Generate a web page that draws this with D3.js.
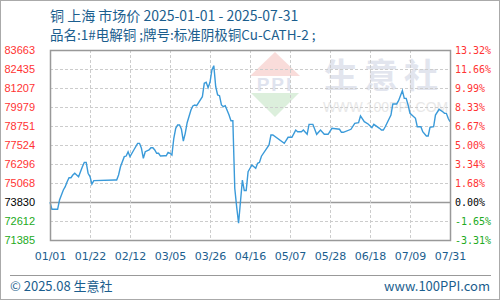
<!DOCTYPE html>
<html>
<head>
<meta charset="utf-8">
<script src="https://cdn.jsdelivr.net/npm/d3@7"></script>
<style>
  body { margin: 0; background: #fff; }
  svg { display: block; }
</style>
</head>
<body>
<div class="svg-container"></div>
<script>
// tick labels
var xTickDates = ["2025-01-01", "2025-01-22", "2025-02-12", "2025-03-05", "2025-03-26", "2025-04-16",
                  "2025-05-07", "2025-05-28", "2025-06-18", "2025-07-09", "2025-07-31"];
var xTickLabels = ["01/01", "01/22", "02/12", "03/05", "03/26", "04/16", "05/07", "05/28", "06/18", "07/09", "07/31"];
var yTickValues = [83663, 82435, 81207, 79979, 78751, 77524, 76296, 75068, 73830, 72612, 71385];
var pctLabels = ["13.32%", "11.66%", "9.99%", "8.33%", "6.67%", "5.00%", "3.34%", "1.68%", "0.00%", "-1.65%", "-3.31%"];
var baseValue = 73830;

// series: day offset from 2025-01-01, price (yuan/ton)
var days = [0, 1, 4, 5, 6, 7, 8, 9, 10, 11, 12, 13, 14, 15, 16, 17, 18, 19, 20, 21, 22, 23, 34,
            35, 36, 37, 39, 40, 41, 42, 44, 46, 47, 48, 49, 50, 52, 53, 54, 55, 56, 57, 58, 60,
            61, 62, 63, 64, 65, 66, 67, 68, 69, 70, 71, 72, 74, 75, 76, 77, 80, 81, 82, 83, 84,
            85, 86, 87, 88, 89, 90, 91, 92, 94, 95, 96, 97, 98, 99, 101, 102, 103, 104, 106, 108,
            109, 110, 111, 115, 116, 117, 123, 125, 127, 129, 130, 132, 133, 135, 136, 138, 140,
            142, 144, 146, 148, 152, 153, 154, 158, 160, 162, 163, 165, 167, 169, 170, 173, 174,
            175, 176, 179, 180, 182, 183, 185, 186, 187, 188, 189, 192, 193, 195, 196, 198, 199,
            200, 202, 203, 205, 207, 208, 209, 210, 211];
var prices = [73830, 73370, 73370, 73970, 74290, 74620, 74830, 75150, 75410, 75410, 75585, 75695,
              75585, 75475, 75800, 76120, 76400, 76400, 75700, 75480, 75000, 75220, 75260, 75260,
              75585, 76120, 76770, 76810, 77090, 76770, 77200, 77630, 77630, 77310, 76665, 77090,
              77200, 77350, 77350, 77200, 76990, 76990, 76810, 76830, 76830, 77050, 76990, 76880,
              77960, 78600, 78815, 78815, 78540, 77780, 78280, 78965, 79785, 80045, 80110, 80065,
              80645, 81510, 81575, 81230, 81575, 82370, 82650, 81290, 80755, 80710, 80110, 80000,
              80065, 79460, 79095, 79095, 74725, 73530, 72465, 75260, 74580, 74580, 75800, 76230,
              76020, 76340, 76405, 76800, 77525, 78170, 78170, 77635, 78020, 78020, 78490, 78385,
              78385, 78490, 78215, 78860, 78860, 78215, 78490, 78215, 78215, 78600, 78540, 78345,
              78345, 78540, 78925, 78965, 79400, 79030, 78880, 78640, 78860, 78600, 78490, 78490,
              78705, 79460, 80175, 80175, 80385, 81035, 80540, 80540, 80110, 79570, 79250, 78705,
              78705, 78385, 78105, 78105, 78670, 78705, 79460, 79830, 79675, 79570, 79570, 79250,
              79030, 79355, 79100];

var W = 500, H = 300;
var margin = { left: 50, right: 50, top: 50, bottom: 60 };
var blue = "#1b5e8e", red = "#ff3333", green = "#22aa22";

var svg = d3.select(".svg-container").append("svg")
    .attr("width", W)
    .attr("height", H)
    .style("font-family", "'Liberation Sans', Arial, sans-serif");

// outer frame
svg.append("rect")
    .attr("x", 0.5).attr("y", 0.5)
    .attr("width", W - 1).attr("height", H - 1)
    .attr("fill", "#fff").attr("stroke", "#aaa");

var parse = d3.timeParse("%Y-%m-%d");
var t0 = parse("2025-01-01");
var tickDates = xTickDates.map(parse);

// ticks are evenly spaced on the picture -> piecewise time scale
var x = d3.scaleTime()
    .domain(tickDates)
    .range(tickDates.map(function(d, i) { return margin.left + i * (W - margin.left - margin.right) / (tickDates.length - 1); }));
var y = d3.scaleLinear()
    .domain([71385, 83663])
    .range([H - margin.bottom, margin.top]);

var data = days.map(function(d, i) { return { date: d3.timeDay.offset(t0, d), v: prices[i] }; });

// watermark
var wm = svg.append("g").attr("class", "watermark");
wm.append("path").attr("d", "M275,52 L300,76 L250,76 Z").attr("fill", "#f9dcda");
wm.append("path").attr("d", "M251,93 L299,93 L275,117 Z").attr("fill", "#dcefdc");
wm.append("text").attr("x", 275).attr("y", 91).attr("text-anchor", "middle")
    .attr("font-size", 19).attr("font-weight", "bold").attr("fill", "#dfe3ee")
    .attr("letter-spacing", 2).text("PPI");
wm.append("text").attr("x", 324).attr("y", 88)
    .attr("font-family", "'Noto Sans CJK SC', sans-serif")
    .attr("font-size", 34).attr("font-weight", "bold").attr("fill", "#e2e5ee")
    .attr("letter-spacing", 6).text("生意社");
wm.append("text").attr("x", 323).attr("y", 112)
    .attr("font-size", 14).attr("fill", "#e8e8e8")
    .text("WWW.100PPI.COM");

// grid
var grid = svg.append("g").attr("class", "grid");
grid.selectAll("line.h").data(yTickValues).enter().append("line")
    .attr("x1", margin.left).attr("x2", W - margin.right)
    .attr("y1", function(d) { return Math.round(y(d)) + 0.5; })
    .attr("y2", function(d) { return Math.round(y(d)) + 0.5; })
    .attr("stroke", function(d) { return d === baseValue ? "#999" : "#ccc"; })
    .attr("stroke-width", function(d) { return d === baseValue ? 1.5 : 1; })
    .attr("stroke-dasharray", function(d) { return d === baseValue ? null : "3,2"; });
grid.selectAll("line.v").data(tickDates).enter().append("line")
    .attr("y1", margin.top).attr("y2", H - margin.bottom)
    .attr("x1", function(d) { return Math.round(x(d)) + 0.5; })
    .attr("x2", function(d) { return Math.round(x(d)) + 0.5; })
    .attr("stroke", "#ccc")
    .attr("stroke-dasharray", "3,2");

// price line
var line = d3.line()
    .x(function(d) { return x(d.date); })
    .y(function(d) { return y(d.v); });
svg.append("path")
    .datum(data)
    .attr("d", line)
    .attr("fill", "none")
    .attr("stroke", "#3a9ad9")
    .attr("stroke-width", 1.4);

// plot border
svg.append("rect")
    .attr("x", margin.left + 0.5).attr("y", margin.top + 0.5)
    .attr("width", W - margin.left - margin.right).attr("height", H - margin.top - margin.bottom)
    .attr("fill", "none").attr("stroke", "#999").attr("stroke-width", 1.5);

function tickColor(d) { return d > baseValue ? red : (d < baseValue ? green : "#000"); }

// left axis (prices)
var yLeft = d3.axisLeft(y).tickValues(yTickValues).tickSize(0).tickPadding(15).tickFormat(d3.format("d"));
svg.append("g").attr("transform", "translate(" + margin.left + ",0)").call(yLeft)
    .call(function(g) { g.select(".domain").remove(); })
    .selectAll("text")
    .attr("font-size", 11).attr("font-family", "'Liberation Sans', Arial, sans-serif")
    .attr("fill", function(d) { return tickColor(d); });

// right axis (percent)
var yRight = d3.axisRight(y).tickValues(yTickValues).tickSize(0).tickPadding(5)
    .tickFormat(function(d, i) { return pctLabels[i]; });
svg.append("g").attr("transform", "translate(" + (W - margin.right) + ",0)").call(yRight)
    .call(function(g) { g.select(".domain").remove(); })
    .selectAll("text")
    .attr("font-size", 10).attr("font-family", "'DejaVu Sans Mono', monospace")
    .attr("fill", function(d) { return tickColor(d); });

// bottom axis
var xAxis = d3.axisBottom(x).tickValues(tickDates).tickSize(0).tickPadding(12)
    .tickFormat(function(d, i) { return xTickLabels[i]; });
svg.append("g").attr("transform", "translate(0," + (H - margin.bottom) + ")").call(xAxis)
    .call(function(g) { g.select(".domain").remove(); })
    .selectAll("text")
    .attr("font-size", 11).attr("font-family", "'DejaVu Sans', sans-serif")
    .attr("fill", blue);

// titles
svg.append("text").attr("x", 50).attr("y", 21)
    .attr("font-family", "'Noto Sans CJK SC', sans-serif").attr("font-size", 14)
    .attr("fill", blue).text("铜 上海 市场价 2025-01-01 - 2025-07-31");
svg.append("text").attr("x", 50).attr("y", 40)
    .attr("font-family", "'Noto Sans CJK SC', sans-serif").attr("font-size", 13.5)
    .attr("fill", blue).text("品名:1#电解铜 ;牌号:标准阴极铜Cu-CATH-2 ;");

// footer
svg.append("line").attr("x1", 10).attr("x2", 491).attr("y1", 275.5).attr("y2", 275.5)
    .attr("stroke", "#999");
svg.append("text").attr("x", 10).attr("y", 291)
    .attr("font-family", "'Noto Sans CJK SC', sans-serif").attr("font-size", 13)
    .attr("fill", blue).text("© 2025.08 生意社");
svg.append("text").attr("x", 490).attr("y", 291).attr("text-anchor", "end")
    .attr("font-family", "'Noto Sans CJK SC', sans-serif").attr("font-size", 13)
    .attr("fill", blue).text("www.100PPI.com");
</script>
</body>
</html>
